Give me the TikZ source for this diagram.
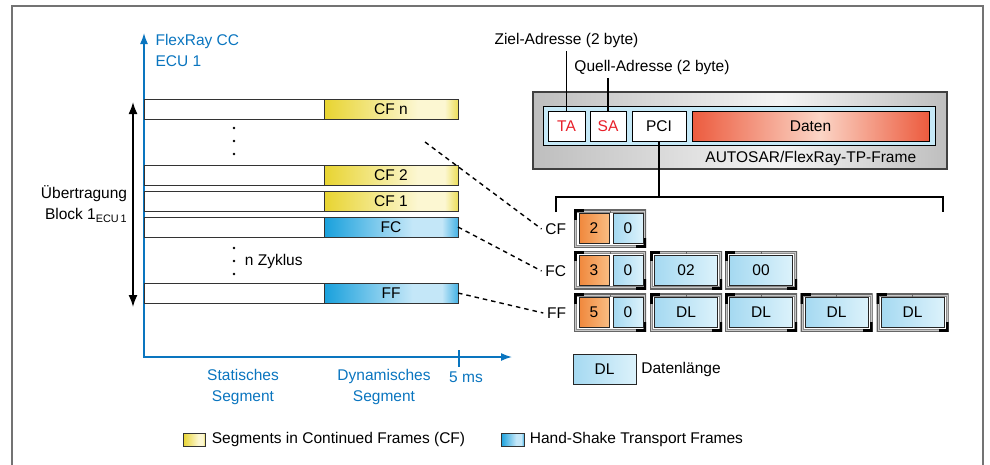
\documentclass[tikz,border=0pt]{standalone}
\usepackage{fontspec}
\setmainfont{Liberation Sans}
\usepackage{tikz}
\usetikzlibrary{positioning,calc,arrows,arrows.meta}

\definecolor{flexblue}{RGB}{10,117,191}
\definecolor{addrred}{RGB}{232,32,42}
\definecolor{cfdark}{RGB}{232,212,48}
\definecolor{cflight}{RGB}{252,247,210}
\definecolor{cfedge}{RGB}{236,222,90}
\definecolor{fcdark}{RGB}{24,160,220}
\definecolor{fclight}{RGB}{196,231,248}
\definecolor{fcedge}{RGB}{70,178,228}
\definecolor{datdark}{RGB}{236,91,62}
\definecolor{datlight}{RGB}{251,213,198}
\definecolor{greydark}{RGB}{190,190,190}
\definecolor{greylight}{RGB}{244,244,244}
\definecolor{celldark}{RGB}{165,217,241}
\definecolor{celllight}{RGB}{220,242,251}
\definecolor{pcidark}{RGB}{240,136,60}
\definecolor{pcilight}{RGB}{248,188,130}
\definecolor{innerblue}{RGB}{198,233,247}

\pgfdeclarehorizontalshading{cfshade}{100bp}{color(0bp)=(cfdark); color(25bp)=(cfdark); color(60bp)=(cflight); color(70bp)=(cflight); color(75bp)=(cfedge); color(100bp)=(cfedge)}
\pgfdeclarehorizontalshading{fcshade}{100bp}{color(0bp)=(fcdark); color(25bp)=(fcdark); color(58bp)=(fclight); color(69bp)=(fclight); color(75bp)=(fcedge); color(100bp)=(fcedge)}
\pgfdeclarehorizontalshading{datshade}{100bp}{color(0bp)=(datdark); color(25bp)=(datdark); color(52bp)=(datlight); color(75bp)=(datdark); color(100bp)=(datdark)}
\pgfdeclarehorizontalshading{greyshade}{100bp}{color(0bp)=(greydark); color(25bp)=(greydark); color(55bp)=(greylight); color(75bp)=(greydark); color(100bp)=(greydark)}
\pgfdeclarehorizontalshading{cellshade}{100bp}{color(0bp)=(celldark); color(25bp)=(celldark); color(75bp)=(celllight); color(100bp)=(celllight)}
\pgfdeclarehorizontalshading{pcishade}{100bp}{color(0bp)=(pcidark); color(25bp)=(pcidark); color(75bp)=(pcilight); color(100bp)=(pcilight)}

\tikzstyle{bar}=[rectangle, draw=black!80, line width=1pt, inner sep=0pt, outer sep=0pt, minimum height=20pt]
\tikzstyle{staticbar}=[bar, fill=white, minimum width=180pt]
\tikzstyle{cfbar}=[bar, shade, shading=cfshade, minimum width=134pt]
\tikzstyle{fcbar}=[bar, shade, shading=fcshade, minimum width=134pt]
\tikzstyle{axis}=[flexblue, line width=1.5pt]
\tikzstyle{bluetext}=[text=flexblue]
\tikzstyle{dashline}=[dashed, dash pattern=on 4.5pt off 4pt, line width=1.4pt]
\tikzstyle{tpframe}=[rectangle, draw=black!75, line width=1.2pt, shade, shading=greyshade, minimum width=414pt, minimum height=77pt]
\tikzstyle{tpinner}=[rectangle, draw=black, line width=1pt, fill=innerblue, minimum width=392pt, minimum height=39pt]
\tikzstyle{addrcell}=[rectangle, draw=black, line width=1pt, fill=white, text=addrred, inner sep=0pt, minimum width=37pt, minimum height=30pt]
\tikzstyle{datencell}=[rectangle, draw=black, line width=1pt, shade, shading=datshade, inner sep=0pt, minimum width=237pt, minimum height=30pt]
\tikzstyle{bytecell}=[rectangle, draw=black!85, line width=1pt, shade, shading=cellshade, inner sep=0pt, minimum width=63pt, minimum height=30pt]
\tikzstyle{pcicell}=[bytecell, shading=pcishade, minimum width=30pt]
\tikzstyle{byteframe}=[rectangle, minimum width=72pt, minimum height=38pt, inner sep=0pt, fill=black!22,
    path picture={
        \draw[black!60, line width=2pt] (path picture bounding box.south west) rectangle (path picture bounding box.north east);
        \draw[black!45, fill=white, line width=0.8pt] ([shift={(2.5pt,2.5pt)}]path picture bounding box.south west) rectangle ([shift={(-2.5pt,-2.5pt)}]path picture bounding box.north east);
        \draw[line width=5pt] ([yshift=-10pt]path picture bounding box.north west) -- (path picture bounding box.north west) -- ([xshift=10pt]path picture bounding box.north west);
        \draw[line width=5pt] ([yshift=10pt]path picture bounding box.south east) -- (path picture bounding box.south east) -- ([xshift=-10pt]path picture bounding box.south east);
        \draw[black!60, line width=1pt] (path picture bounding box.north) -- ([yshift=-3pt]path picture bounding box.north);
    }]

\begin{document}
\begin{tikzpicture}[x=1pt, y=-1pt, font=\fontsize{15.5}{21}\selectfont, line width=1.1pt]
    \useasboundingbox (0,0) rectangle (990,464);

    \draw[black!55, line width=1.2pt] (12,470) -- (12,6) -- (983,6) -- (983,470);

    \coordinate (Origin) at (144,357);
    \coordinate (TimeTop) at (144,33);
    \coordinate (TimeEnd) at (512,357);
    \coordinate (Tick) at (459,357);
    \draw[axis, {Latex[length=11pt,width=8pt]}-{Latex[length=11pt,width=8pt]}] (TimeTop) -- (Origin) -- (TimeEnd);
    \draw[axis] ([yshift=7pt]Tick) -- ([yshift=-10pt]Tick);

    \node (CCLabel) [bluetext, anchor=north west, align=left, inner sep=0pt] at (155,34) {FlexRay CC\\ECU 1};

    \node (StatCFn) [staticbar] at (234,109) {};
    \node (CFn) [cfbar, right=0pt of StatCFn] {CF n};

    \node (StatCF2) [staticbar] at (234,175) {};
    \node (CF2) [cfbar, right=0pt of StatCF2] {CF 2};

    \node (StatCF1) [staticbar] at (234,201) {};
    \node (CF1) [cfbar, right=0pt of StatCF1] {CF 1};

    \node (StatFC) [staticbar] at (234,227) {};
    \node (FC) [fcbar, right=0pt of StatFC] {FC};

    \node (StatFF) [staticbar] at (234,293) {};
    \node (FF) [fcbar, right=0pt of StatFF] {FF};

    \fill (234,128) circle (1.4pt);
    \fill (234,141) circle (1.4pt);
    \fill (234,154) circle (1.4pt);
    \fill (234,248) circle (1.4pt);
    \fill (234,261) circle (1.4pt);
    \fill (234,274) circle (1.4pt);
    \node (Zyklus) [anchor=west] at (241,261) {n Zyklus};

    \coordinate (BlockTop) at (133,102);
    \coordinate (BlockBottom) at (133,307);
    \draw[{Latex[length=12pt,width=9pt]}-{Latex[length=12pt,width=9pt]}, line width=1.6pt] (BlockTop) -- (BlockBottom);
    \node (Uebertragung) [anchor=east, align=right] at (131,204) {Übertragung\\Block 1\textsubscript{ECU\,1}};

    \node (StatSeg) [bluetext, align=center] at (243,387) {Statisches\\Segment};
    \node (DynSeg) [bluetext, align=center] at (384,387) {Dynamisches\\Segment};
    \node (FiveMs) [bluetext] at (466,377) {5 ms};

    \node (LegendCF) [cfbar, minimum width=22pt, minimum height=13pt] at (194,439.5) {};
    \node (LegendCFText) [right=3pt of LegendCF] {Segments in Continued Frames (CF)};
    \node (LegendFC) [fcbar, minimum width=23pt, minimum height=13pt] at (512.5,439.5) {};
    \node (LegendFCText) [right=2pt of LegendFC] {Hand-Shake Transport Frames};

    \node (Ziel) at (566.5,40) {Ziel-Adresse (2 byte)};
    \node (Quell) at (652,67) {Quell-Adresse (2 byte)};
    \node (TPFrame) [tpframe] at (740,130.5) {};
    \node (TPInner) [tpinner] at (739,125.5) {};
    \node (TA) [addrcell] at (566.5,126) {TA};
    \node (SA) [addrcell, minimum width=36pt] at (608,126) {SA};
    \node (PCI) [addrcell, text=black, minimum width=54pt] at (659,126) {PCI};
    \node (Daten) [datencell] at (810.5,126) {Daten};
    \node (TPLabel) [anchor=east] at (920,158) {AUTOSAR/FlexRay-TP-Frame};

    \draw (Ziel.south) -- (TA.north);
    \draw (SA.north) -- (SA.north |- Quell.south);

    \coordinate (BracketL) at (556,212);
    \coordinate (BracketR) at (943,212);
    \coordinate (BracketTop) at (659,197);
    \draw (PCI.south) -- (PCI.south |- BracketTop);
    \draw (BracketL) -- (BracketL |- BracketTop) -- (BracketR |- BracketTop) -- (BracketR);

    \node (LabelCF) [anchor=east] at (570,229) {CF};
    \node (LabelFC) [anchor=east] at (570,271) {FC};
    \node (LabelFF) [anchor=east] at (570,313) {FF};

    \coordinate (CFnTail) at (425,142);
    \draw[dashline] (CFnTail) -- (LabelCF.west);
    \draw[dashline] (FC.east) -- (LabelFC.west);
    \draw[dashline] (FF.east) -- (LabelFF.west);

    \node (FrameCF) [byteframe] at (610,228.5) {};
    \node (PciCF) [pcicell] at (594,228.5) {2};
    \node (NullCF) [bytecell, minimum width=30pt] at (628,228.5) {0};

    \node (FrameFC) [byteframe] at (610,270) {};
    \node (PciFC) [pcicell] at (594,270) {3};
    \node (NullFC) [bytecell, minimum width=30pt] at (628,270) {0};
    \node (FrameFCa) [byteframe] at (686,270) {};
    \node (ByteFCa) [bytecell] at (686,270) {02};
    \node (FrameFCb) [byteframe] at (761,270) {};
    \node (ByteFCb) [bytecell] at (761,270) {00};

    \node (FrameFF) [byteframe] at (610,312.5) {};
    \node (PciFF) [pcicell] at (594,312.5) {5};
    \node (NullFF) [bytecell, minimum width=30pt] at (628,312.5) {0};
    \node (FrameFFa) [byteframe] at (686,312.5) {};
    \node (ByteFFa) [bytecell] at (686,312.5) {DL};
    \node (FrameFFb) [byteframe] at (761,312.5) {};
    \node (ByteFFb) [bytecell] at (761,312.5) {DL};
    \node (FrameFFc) [byteframe] at (836.5,312.5) {};
    \node (ByteFFc) [bytecell] at (836.5,312.5) {DL};
    \node (FrameFFd) [byteframe] at (912.5,312.5) {};
    \node (ByteFFd) [bytecell] at (912.5,312.5) {DL};

    \node (LegendDL) [bytecell] at (604.5,369) {DL};
    \node (LegendDLText) [right=1pt of LegendDL] {Datenlänge};

\end{tikzpicture}
\end{document}
